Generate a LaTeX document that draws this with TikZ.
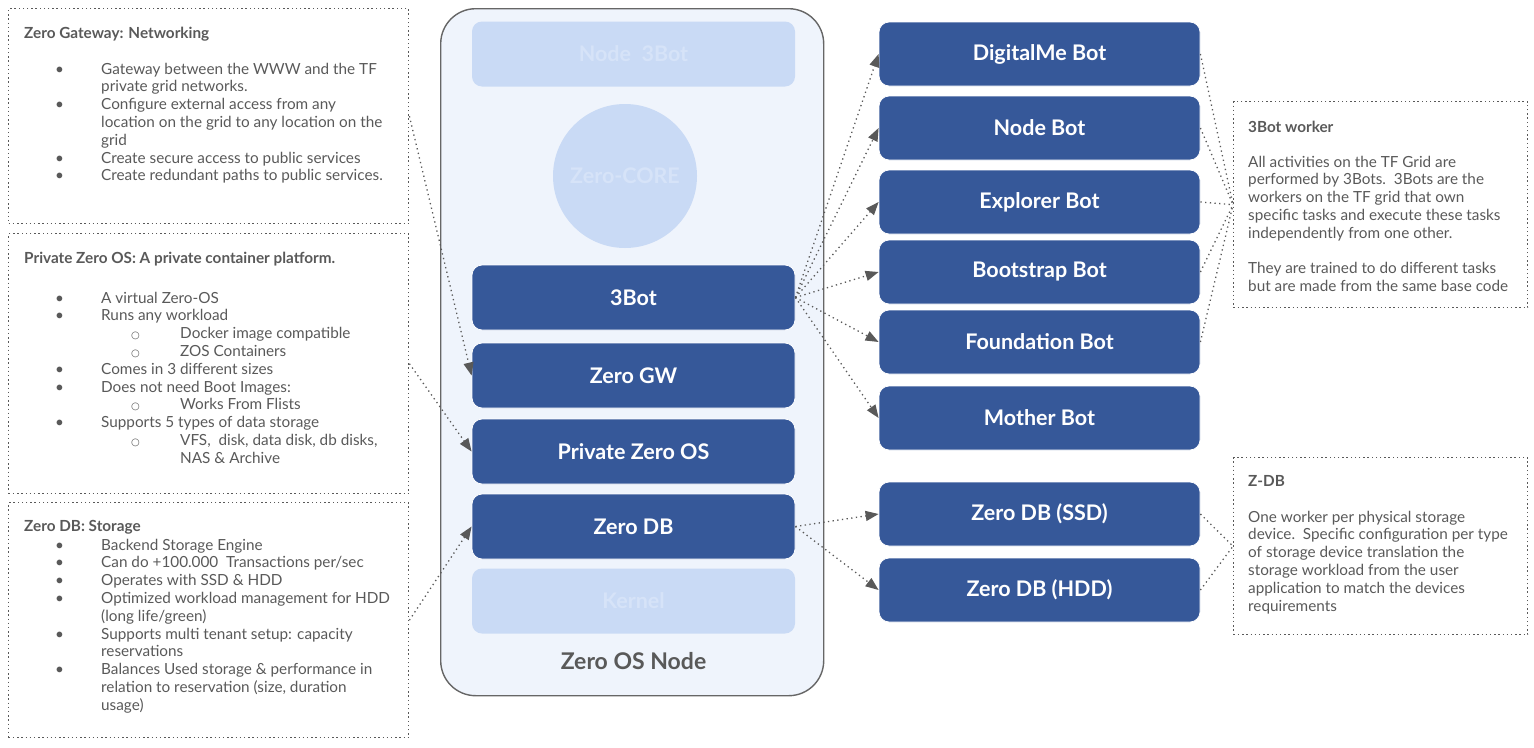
\documentclass[tikz,border=0pt]{standalone}
\usepackage{fontspec}
\setmainfont{Lato}
\newfontfamily\symfont{DejaVu Sans}
\usepackage{xcolor}
\definecolor{darkblueZO}{RGB}{54,88,153}
\definecolor{paleblueZO}{RGB}{201,218,245}
\definecolor{fadedblueZO}{RGB}{214,227,248}
\definecolor{nodebgZO}{RGB}{239,244,252}
\definecolor{frameZO}{RGB}{102,102,102}
\definecolor{textZO}{RGB}{89,89,89}
\usepackage{tikz}
\usetikzlibrary{arrows.meta, positioning}
\tikzset{
  infobox/.style={draw=textZO, line width=1.4pt, dash pattern=on 1.4pt off 2.8pt,
    anchor=north west, inner sep=0pt},
  infotext/.style={anchor=base west, inner sep=0pt, text=textZO},
  layerbox/.style={rounded corners=10pt, minimum width=323pt, minimum height=65pt,
    inner sep=0pt, font=\bfseries\fontsize{21.5}{24}\selectfont},
  darkbox/.style={layerbox, fill=darkblueZO, draw=white, line width=0.8pt, text=white},
  fadedbox/.style={layerbox, fill=paleblueZO, text=fadedblueZO},
  botbox/.style={darkbox, minimum width=321pt, minimum height=64pt},
  link/.style={draw=textZO, line width=1.3pt, dash pattern=on 1.3pt off 3.4pt,
    -{Triangle[length=13pt, width=10pt, fill=textZO]}},
  plainlink/.style={draw=textZO, line width=1.3pt, dash pattern=on 1.3pt off 3.4pt}
}
% bullet helpers for the info boxes
\newcommand{\bl}[1]{\hspace*{31pt}\makebox[46pt][l]{\textbullet}#1}
\newcommand{\cont}[1]{\hspace*{77pt}#1}
\newcommand{\sbl}[1]{\hspace*{107pt}\makebox[49pt][l]{{\symfont\fontsize{10}{10}\selectfont ○}}#1}
\newcommand{\scont}[1]{\hspace*{156pt}#1}
\newcommand{\boxfont}{\fontsize{15.3}{17.8}\selectfont}

\begin{document}
\begin{tikzpicture}[x=1pt, y=-1pt]
\useasboundingbox (0,0) rectangle (1534,747);

% === Zero OS Node container ===
\node[draw=frameZO, fill=nodebgZO, line width=1.4pt, rounded corners=35pt,
  minimum width=383pt, minimum height=687pt, anchor=north west, inner sep=0pt]
  (zos_node) at (440,8) {};

\node[fadedbox] (node3bot) at (633.5,54) {Node\ \ 3Bot};
\node[circle, fill=paleblueZO, minimum size=144pt, inner sep=0pt,
  text=fadedblueZO, font=\bfseries\fontsize{21.5}{24}\selectfont] (zcore) at (625,176) {Zero-CORE};
\node[darkbox] (bot3) at (633.5,297.5) {3Bot};
\node[darkbox] (zgw) at (633.5,375.5) {Zero GW};
\node[darkbox] (pzos) at (633.5,451.5) {Private Zero OS};
\node[darkbox] (zdb) at (633.5,526.5) {Zero DB};
\node[fadedbox] (kernel) at (633.5,601) {Kernel};
\node[text=textZO, font=\bfseries\fontsize{23}{26}\selectfont] (zos_label) at (633.5,661) {Zero OS Node};

% === Bots (right column) ===
\foreach \name/\y/\txt in {bot_digitalme/54/DigitalMe Bot, bot_node/128/Node Bot,
    bot_explorer/202/Explorer Bot, bot_bootstrap/272/Bootstrap Bot,
    bot_foundation/342/Foundation Bot, bot_mother/418/Mother Bot,
    zdb_ssd/514/Zero DB (SSD), zdb_hdd/590/Zero DB (HDD)}
  {\node[botbox] (\name) at (1039.5,\y) {\txt};}

% === Info boxes (left) ===
\node[infobox, minimum width=400pt, minimum height=215pt] (gw_info) at (8,8) {};
\node[infotext] (gw_text) at (24,38) {\parbox[t]{380pt}{\boxfont
  \textbf{Zero Gateway: Networking}\\[18.2pt]
  \bl{Gateway between the WWW and the TF}\\
  \cont{private grid networks.}\\
  \bl{Configure external access from any}\\
  \cont{location on the grid to any location on the}\\
  \cont{grid}\\
  \bl{Create secure access to public services}\\
  \bl{Create redundant paths to public services.}}};

\node[infobox, minimum width=400pt, minimum height=260pt] (pzos_info) at (8,233) {};
\node[infotext] (pzos_text) at (24,263) {\parbox[t]{380pt}{\boxfont
  \textbf{Private Zero OS: A private container platform.}\\[22.2pt]
  \bl{A virtual Zero-OS}\\
  \bl{Runs any workload}\\
  \sbl{Docker image compatible}\\
  \sbl{ZOS Containers}\\
  \bl{Comes in 3 different sizes}\\
  \bl{Does not need Boot Images:}\\
  \sbl{Works From Flists}\\
  \bl{Supports 5 types of data storage}\\
  \sbl{VFS,\ \ disk, data disk, db disks,}\\
  \scont{NAS \& Archive}}};

\node[infobox, minimum width=400pt, minimum height=235pt] (zdb_info) at (8,502) {};
\node[infotext] (zdb_text) at (24,531) {\parbox[t]{380pt}{\boxfont
  \textbf{Zero DB: Storage}\\[1.2pt]
  \bl{Backend Storage Engine}\\
  \bl{Can do +100.000\ \ Transactions per/sec}\\
  \bl{Operates with SSD \& HDD}\\
  \bl{Optimized workload management for HDD}\\
  \cont{(long life/green)}\\
  \bl{Supports multi tenant setup: capacity}\\
  \cont{reservations}\\
  \bl{Balances Used storage \& performance in}\\
  \cont{relation to reservation (size, duration}\\
  \cont{usage)}}};

% === Info boxes (right) ===
\node[infobox, minimum width=294pt, minimum height=206pt] (worker_info) at (1233,101) {};
\node[infotext] (worker_text) at (1248,132) {\parbox[t]{275pt}{\boxfont
  \textbf{3Bot worker}\\[17.2pt]
  All activities on the TF Grid are\\
  performed by 3Bots.\ \ 3Bots are the\\
  workers on the TF grid that own\\
  specific tasks and execute these tasks\\
  independently from one other.\\[17.8pt]
  They are trained to do different tasks\\
  but are made from the same base code}};

\node[infobox, minimum width=294pt, minimum height=177pt] (zdbw_info) at (1233,457) {};
\node[infotext] (zdbw_text) at (1248,486) {\parbox[t]{275pt}{\boxfont
  \textbf{Z-DB}\\[18.2pt]
  One worker per physical storage\\
  device.\ \ Specific configuration per type\\
  of storage device translation the\\
  storage workload from the user\\
  application to match the devices\\
  requirements}};

% === Connectors ===
\draw[link] (gw_info.east) -- (zgw.west);
\draw[link] (pzos_info.east) -- (pzos.west);
\draw[link] (zdb_info.east) -- (zdb.west);
\foreach \b in {bot_digitalme, bot_node, bot_explorer, bot_bootstrap, bot_foundation, bot_mother}
  {\draw[link] (bot3.east) -- (\b.west);}
\draw[link] (zdb.east) -- (zdb_ssd.west);
\draw[link] (zdb.east) -- (zdb_hdd.west);
\foreach \b in {bot_digitalme, bot_node, bot_explorer, bot_bootstrap, bot_foundation}
  {\draw[plainlink] (\b.east) -- (worker_info.west);}
\draw[plainlink] (zdb_ssd.east) -- (zdbw_info.west);
\draw[plainlink] (zdb_hdd.east) -- (zdbw_info.west);
\end{tikzpicture}
\end{document}
